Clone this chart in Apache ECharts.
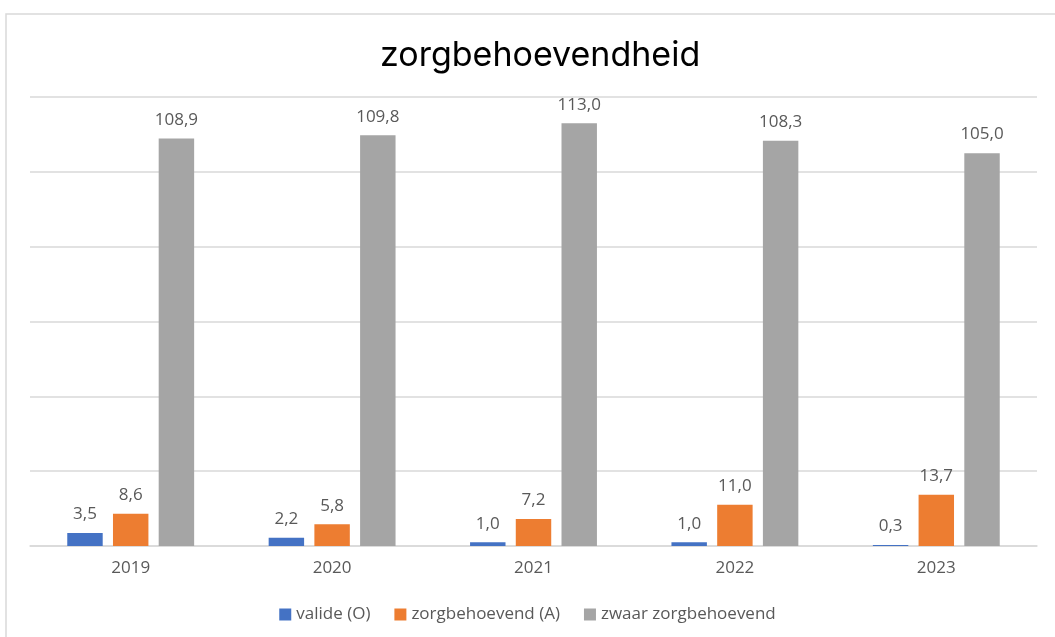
<!DOCTYPE html>
<html>
<head>
<meta charset="utf-8">
<script src="https://cdn.jsdelivr.net/npm/echarts@6/dist/echarts.min.js"></script>
<style>
  html, body { margin: 0; padding: 0; background: #fff; }
  #chart { width: 1055px; height: 637px; }
</style>
</head>
<body>
<div id="chart"></div>
<script>
// categories and values
const years = ['2019', '2020', '2021', '2022', '2023'];
const valide = [3.5, 2.2, 1.0, 1.0, 0.3];
const zorgbehoevend = [8.6, 5.8, 7.2, 11.0, 13.7];
const zwaar = [108.9, 109.8, 113.0, 108.3, 105.0];
const seriesNames = ['valide (O)', 'zorgbehoevend (A)', 'zwaar zorgbehoevend'];
const colors = ['#4472C4', '#ED7D31', '#A5A5A5'];

const chart = echarts.init(document.getElementById('chart'));

const label = {
  show: true,
  position: 'top',
  distance: 10,
  color: '#595959',
  fontFamily: 'Open Sans',
  fontSize: 17,
  formatter: p => p.value.toFixed(1).replace('.', ',')
};

const makeSeries = (name, data, color) => ({
  name: name,
  type: 'bar',
  data: data,
  barGap: '29%',
  barCategoryGap: '37%',
  itemStyle: { color: color },
  label: label
});

chart.setOption({
  animation: false,
  color: colors,
  graphic: [{
    type: 'rect',
    shape: { x: 6, y: 14, width: 1070, height: 650 },
    style: { fill: 'none', stroke: '#d9d9d9', lineWidth: 1.5 }
  }],
  title: {
    text: 'zorgbehoevendheid',
    left: 375,
    top: 34,
    textStyle: { fontFamily: 'Inter', fontWeight: 'normal', fontSize: 34, color: '#000' }
  },
  legend: {
    bottom: 9,
    left: 'center',
    itemWidth: 12,
    itemHeight: 12,
    itemGap: 24,
    icon: 'rect',
    textStyle: { fontFamily: 'Open Sans', fontSize: 17, color: '#595959' },
    data: seriesNames
  },
  grid: { left: 30, right: 18, top: 97, bottom: 91 },
  xAxis: {
    type: 'category',
    data: years,
    axisLine: { lineStyle: { color: '#d9d9d9', width: 1.5 } },
    axisTick: { show: false },
    axisLabel: { color: '#595959', fontFamily: 'Open Sans', fontSize: 17, margin: 14 }
  },
  yAxis: {
    type: 'value',
    min: 0,
    max: 120,
    interval: 20,
    axisLabel: { show: false },
    axisLine: { show: false },
    axisTick: { show: false },
    splitLine: { lineStyle: { color: '#d9d9d9', width: 1.5 } }
  },
  series: [
    makeSeries(seriesNames[0], valide, colors[0]),
    makeSeries(seriesNames[1], zorgbehoevend, colors[1]),
    makeSeries(seriesNames[2], zwaar, colors[2])
  ]
});

window.addEventListener('resize', function () {
  chart.resize();
});
</script>
</body>
</html>
